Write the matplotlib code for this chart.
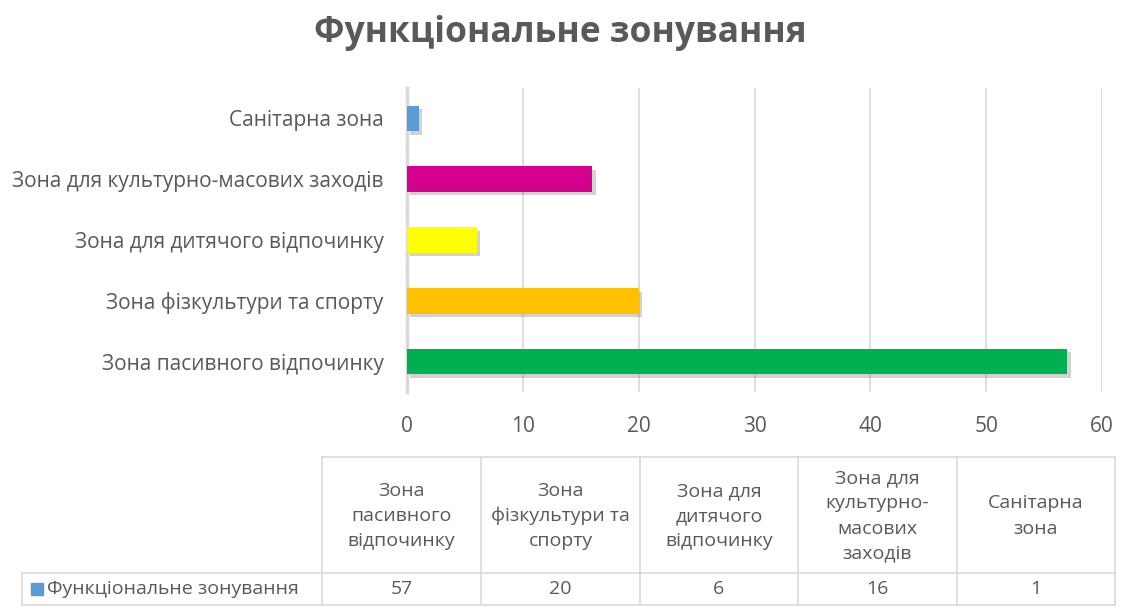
import matplotlib.pyplot as plt
import matplotlib.patheffects as pe

plt.rcParams['font.family'] = ['Open Sans', 'DejaVu Sans']

title = 'Функціональне зонування'
zones = ['Зона пасивного відпочинку', 'Зона фізкультури та спорту',
         'Зона для дитячого відпочинку', 'Зона для культурно-масових заходів',
         'Санітарна зона']
values = [57, 20, 6, 16, 1]
colors = ['#00B050', '#FFC000', '#FFFF00', '#D6008F', '#5B9BD5']
table_headers = ['Зона\nпасивного\nвідпочинку', 'Зона\nфізкультури та\nспорту',
                 'Зона для\nдитячого\nвідпочинку', 'Зона для\nкультурно-\nмасових\nзаходів',
                 'Санітарна\nзона']

W, H = 1121, 610
fig = plt.figure(figsize=(W / 100, H / 100), dpi=100)
ax = fig.add_axes([407 / W, 1 - 392 / H, (1102 - 407) / W, (392 - 88) / H])

grey = '#595959'
grid = '#d9d9d9'

bars = ax.barh(range(len(zones)), values, height=0.42, color=colors, zorder=3)
for b in bars:
    b.set_path_effects([pe.SimplePatchShadow(offset=(2.5, -2.5), shadow_rgbFace='#808080', alpha=0.35),
                        pe.Normal()])

ax.set_xlim(0, 60)
ax.set_ylim(-0.5, len(zones) - 0.5)
ax.set_xticks(range(0, 61, 10))
ax.set_yticks(range(len(zones)))
ax.set_yticklabels(zones)
ax.xaxis.grid(True, color=grid, lw=1.2, zorder=0)
ax.tick_params(axis='both', length=0, colors=grey, labelsize=15)
ax.tick_params(axis='x', pad=17)
ax.tick_params(axis='y', pad=17)
for s in ['top', 'right', 'bottom']:
    ax.spines[s].set_visible(False)
ax.spines['left'].set_color(grid)
ax.spines['left'].set_linewidth(2.5)

fig.text(0.5, 1 - 33 / H, title, ha='center', va='center', fontsize=25.5,
         fontweight='bold', color=grey)

# data table below the chart
tax = fig.add_axes([0, 0, 1, 1])
tax.set_xlim(0, W)
tax.set_ylim(H, 0)
tax.axis('off')
cols = [322, 481, 640, 798, 957, 1115]
top, mid, bot = 457, 573, 605
lkw = dict(color=grid, lw=1.2)
tax.plot([cols[0], cols[-1]], [top, top], **lkw)
tax.plot([22, cols[-1]], [mid, mid], **lkw)
tax.plot([22, cols[-1]], [bot, bot], **lkw)
tax.plot([22, 22], [mid, bot], **lkw)
for x in cols:
    tax.plot([x, x], [top, bot], **lkw)
for i in range(len(values)):
    cx = (cols[i] + cols[i + 1]) / 2
    tax.text(cx, (top + mid) / 2 + 1, table_headers[i], ha='center', va='center',
             fontsize=14, color=grey, linespacing=1.5)
    tax.text(cx, (mid + bot) / 2, str(values[i]), ha='center', va='center',
             fontsize=14, color=grey)
tax.add_patch(plt.Rectangle((31, 583), 12, 12, color=colors[-1]))
tax.text(47, (mid + bot) / 2, title, ha='left', va='center', fontsize=14, color=grey)

fig.savefig('out.png', dpi=100)
